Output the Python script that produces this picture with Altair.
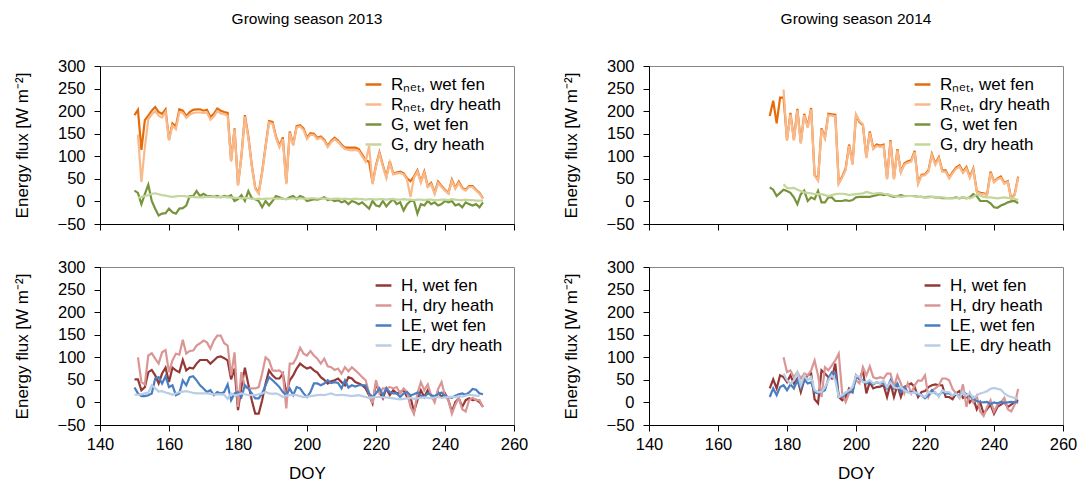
import altair as alt
import pandas as pd

FONT = "Liberation Sans"

# ---------------- 2013 (wet fen from DOY 150, dry heath from DOY 151) ----------------
START_2013_WET = 150
START_2013_DRY = 151
RNET_WET_2013 = [191, 203, 114, 180, 190, 201, 209, 198, 194, 204, 137, 173, 166, 204, 201, 189, 198, 203, 204, 204,
                 201, 203, 187, 194, 206, 201, 198, 196, 91, 162, 37, 101, 191, 144, 80, 30, 19, 66, 123, 178,
                 176, 144, 123, 142, 41, 155, 126, 167, 169, 162, 141, 151, 150, 141, 144, 137, 123, 134, 141, 135,
                 126, 119, 119, 119, 119, 116, 104, 91, 88, 41, 80, 109, 80, 55, 89, 62, 64, 66, 62, 51,
                 45, 55, 69, 44, 66, 34, 41, 19, 44, 34, 26, 19, 48, 30, 44, 30, 26, 34, 34, 26, 19, 7]
RNET_DRY_2013 = [148, 43, 120, 182, 193, 200, 190, 186, 198, 135, 168, 160, 198, 196, 185, 192, 196, 197, 197,
                 196, 197, 181, 188, 200, 195, 193, 190, 88, 160, 35, 100, 188, 140, 78, 28, 17, 64, 120, 175,
                 172, 141, 120, 138, 38, 152, 124, 164, 166, 158, 138, 148, 147, 138, 141, 134, 120, 131, 138, 132,
                 123, 116, 114, 113, 114, 112, 100, 88, 123, 38, 77, 106, 77, 52, 86, 60, 62, 63, 60, 48,
                 10, 52, 66, 42, 63, 32, 38, 17, 41, 32, 24, 17, 45, 28, 41, 28, 24, 32, 32, 24, 17, 6]
G_WET_2013 = [24, 19, -6, 16, 37, 1, -16, -31, -27, -26, -16, -24, -27, -16, -15, -9, 12, 12, 23, 12,
              17, 12, 12, 10, 12, 9, 12, 10, 14, 1, 5, 14, 1, 23, 7, 5, 1, -13, 1, -9,
              1, 12, 9, 6, 5, 9, 12, 5, 12, 9, 1, 3, 5, 4, 6, 9, 3, 5, 1, 3,
              -2, 1, -6, 1, -2, -6, -2, -9, -16, 1, -9, -11, 1, -11, -2, 5, -6, -2, -20, -6,
              1, 1, -27, -6, -9, 1, -6, -2, -9, -6, 1, -2, 1, -9, -6, -13, -2, -6, -9, -6, -13, -2]
G_DRY_2013 = [8, 10, 12, 14, 17, 18, 16, 14, 13, 11, 10, 11, 12, 12, 11, 10, 10, 9, 9,
              9, 10, 10, 10, 9, 10, 10, 9, 9, 8, 8, 7, 8, 7, 6, 5, 6, 5, 6, 6,
              7, 6, 6, 6, 5, 6, 7, 6, 7, 6, 6, 7, 7, 6, 7, 6, 6, 5, 6, 6,
              5, 6, 5, 5, 6, 5, 5, 4, 5, 5, 4, 5, 5, 4, 5, 5, 4, 4, 5, 4,
              4, 3, 4, 4, 3, 4, 4, 3, 3, 4, 4, 3, 5, 4, 3, 3, 4, 3, 3, 2, 2, 2]
H_WET_2013 = [51, 51, 27, 34, 67, 72, 60, 42, 64, 77, 45, 77, 71, 67, 94, 71, 77, 75, 86, 94,
              94, 94, 86, 93, 100, 102, 98, 93, 51, 75, -17, 34, 77, 40, 5, -25, -25, 5, 42, 71,
              60, 53, 53, 64, 20, 49, 60, 75, 86, 80, 75, 78, 71, 66, 56, 50, 42, 47, 49, 53,
              45, 38, 56, 53, 45, 42, 38, 31, 16, -2, 42, 23, 9, 31, 16, 27, 20, 23, 27, 12,
              12, -21, 5, 27, 12, 27, 16, 9, 23, 12, 20, 5, -21, 1, 9, -10, 5, 9, 5, 6, 1, -10]
H_DRY_2013 = [100, 45, 40, 104, 109, 97, 86, 111, 116, 67, 93, 108, 106, 139, 108, 114, 115, 126, 131,
              137, 133, 119, 137, 148, 148, 131, 126, 60, 111, -10, 67, 34, 31, 31, 31, 34, 64, 100, 93,
              71, 70, 71, 64, -13, 86, 86, 100, 121, 108, 104, 114, 104, 97, 86, 97, 80, 78, 72, 75,
              64, 78, 69, 78, 71, 64, 56, 49, 20, -2, 49, 20, 31, 31, 34, 31, 34, 20, 31, 23,
              -10, -25, 20, 45, 27, 40, 15, 0, 30, 45, 15, 5, -25, -5, 10, -15, -20, 5, 10, 5, 5, -10]
LE_WET_2013 = [33, 20, 14, 14, 16, 20, 53, 56, 42, 58, 34, 38, 16, 20, 49, 38, 56, 58, 49, 38,
               31, 23, 27, 16, 23, 20, 23, 40, 5, 20, 23, 12, 38, 31, 20, 9, 9, 20, 38, 56,
               49, 42, 34, 23, 16, 31, 16, 34, 31, 20, 12, 23, 42, 42, 38, 42, 49, 43, 45, 43,
               31, 49, 33, 38, 35, 38, 38, 38, 20, 12, 20, 31, 16, 31, 23, 20, 20, 12, 20, 23,
               16, 18, 22, 15, 12, 20, 16, 14, 18, 22, 14, 12, 10, 15, 18, 20, 17, 22, 30, 28, 20, 18]
LE_DRY_2013 = [17, 17, 18, 20, 22, 38, 31, 24, 25, 22, 20, 17, 20, 23, 24, 25, 23, 21, 20,
               20, 20, 20, 19, 18, 18, 18, 17, 8, 20, 16, 17, 20, 18, 16, 16, 16, 18, 20, 23,
               20, 19, 20, 17, 12, 15, 16, 17, 16, 14, 12, 13, 14, 15, 16, 17, 16, 18, 20, 17,
               16, 17, 16, 15, 14, 15, 16, 14, 12, 10, 11, 12, 12, 11, 11, 10, 9, 8, 7, 8,
               9, 10, 8, 9, 10, 11, 10, 9, 11, 12, 10, 11, 12, 13, 12, 14, 13, 15, 17, 16, 15, 14]

# ---------------- 2014 (wet fen from DOY 175, dry heath from DOY 179) ----------------
START_2014_WET = 175
START_2014_DRY = 179
RNET_WET_2014 = [189, 223, 173, 230, 230, 137, 196, 137, 205, 131, 194, 166, 207, 59, 48, 162, 142, 194, 193, 192,
                 41, 55, 73, 126, 84, 191, 176, 169, 98, 155, 119, 126, 124, 126, 51, 136, 51, 116, 66, 84,
                 89, 91, 112, 41, 59, 60, 69, 105, 84, 98, 69, 69, 53, 65, 75, 80, 66, 76, 55, 73,
                 23, 19, 18, 16, 66, 44, 51, 55, 41, 45, 5, 16, 55]
RNET_DRY_2014 = [248, 134, 193, 135, 202, 128, 191, 163, 204, 57, 46, 159, 139, 191, 190, 189,
                 39, 53, 70, 123, 81, 193, 178, 171, 96, 152, 116, 123, 121, 123, 49, 133, 49, 113, 64, 81,
                 86, 88, 109, 39, 57, 58, 66, 102, 81, 95, 66, 66, 51, 62, 72, 77, 63, 73, 52, 70,
                 21, 17, 16, 14, 63, 42, 49, 52, 39, 43, 4, 14, 53]
G_WET_2014 = [31, 26, 12, 19, 26, 23, 19, 9, -6, 16, 24, 1, 9, 5, 23, -2, -2, 9, 9, 1,
              1, 1, 3, 1, 3, 9, 10, 10, 10, 10, 12, 14, 16, 14, 16, 12, 10, 12, 14, 12,
              12, 12, 12, 10, 10, 9, 10, 10, 9, 9, 7, 7, 7, 7, 9, 7, 9, 7, 9, 16,
              12, 1, 1, 1, -4, -13, -14, -9, -6, -2, 0, 1, -4]
G_DRY_2014 = [38, 30, 29, 30, 26, 23, 20, 19, 18, 16, 16, 16, 14, 12, 14, 16,
              17, 17, 16, 14, 15, 16, 17, 18, 21, 19, 17, 18, 19, 17, 16, 14, 12, 11, 10, 11,
              12, 12, 11, 10, 10, 9, 9, 10, 10, 9, 9, 8, 7, 7, 7, 8, 9, 8, 7, 10,
              16, 13, 10, 9, 9, 8, 7, 8, 9, 8, 7, 6, 3]
H_WET_2014 = [31, 51, 31, 60, 56, 45, 60, 42, 53, 23, 49, 60, 64, 7, -2, 71, 64, 56, 53, 86,
              12, 5, 12, 31, 23, 60, 51, 71, 20, 45, 31, 34, 35, 38, 12, 42, 12, 38, 12, 34,
              38, 42, 34, 12, 23, 25, 34, 38, 40, 38, 38, 12, 12, 7, 20, 25, 10, 15, 0, 10,
              -15, 0, -25, -15, -5, -25, -10, -5, 0, -10, -5, 0, 5]
H_DRY_2014 = [100, 67, 71, 56, 67, 53, 64, 60, 71, 93, 60, 12, 78, 71, 82, 93,
              108, 20, 1, 20, 34, 49, 42, 78, 60, 80, 56, 53, 56, 53, 64, 64, 34, 60, 42, 20,
              42, 20, 38, 49, 48, 60, 12, 27, 31, 38, 53, 53, 49, 30, 20, 10, 40, -10, 20, 0,
              15, -20, -30, -10, 5, -20, -5, 0, 10, -15, -20, -5, 30]
LE_WET_2014 = [12, 31, 16, 34, 38, 27, 40, 31, 49, 31, 51, 42, 45, 23, 20, 23, 27, 53, 67, 64,
               12, 12, 20, 23, 23, 56, 53, 49, 42, 45, 40, 45, 42, 42, 31, 49, 31, 42, 23, 34,
               23, 23, 23, 16, 16, 9, 16, 27, 20, 16, 23, 20, 20, 15, 20, 12, 25, 18, 15, 8,
               3, 1, 0, 1, -4, 0, -2, 1, -1, 0, 1, 0, 0]
LE_DRY_2014 = [64, 49, 42, 49, 67, 38, 60, 49, 56, 27, 23, 23, 34, 49, 60, 49,
               12, 16, 22, 27, 34, 60, 56, 45, 45, 49, 42, 45, 43, 48, 34, 45, 34, 31, 34, 27,
               23, 20, 23, 20, 16, 12, 23, 20, 23, 12, 27, 23, 23, 15, 20, 10, 25, 15, 20, 10,
               15, 20, 22, 25, 30, 32, 30, 28, 20, 15, 12, 10, 10]

SERIES_TOP = ["R\u2099\u2091\u209c, wet fen", "R\u2099\u2091\u209c, dry heath", "G, wet fen", "G, dry heath"]
COLORS_TOP = ["#E46C0A", "#F9B98A", "#77933C", "#C3D69B"]
SERIES_BOT = ["H, wet fen", "H, dry heath", "LE, wet fen", "LE, dry heath"]
COLORS_BOT = ["#953735", "#DA9694", "#4A7EC2", "#B9CDE5"]

X_TICKS = [140, 160, 180, 200, 220, 240, 260]
Y_TICKS = [-50, 0, 50, 100, 150, 200, 250, 300]


def frame(series_names, lists, starts):
    rows = []
    for name, vals, start in zip(series_names, lists, starts):
        for i, v in enumerate(vals):
            rows.append({"series": name, "doy": start + i, "value": v})
    return pd.DataFrame(rows)


df_tl = frame(SERIES_TOP, [RNET_WET_2013, RNET_DRY_2013, G_WET_2013, G_DRY_2013],
              [START_2013_WET, START_2013_DRY, START_2013_WET, START_2013_DRY])
df_bl = frame(SERIES_BOT, [H_WET_2013, H_DRY_2013, LE_WET_2013, LE_DRY_2013],
              [START_2013_WET, START_2013_DRY, START_2013_WET, START_2013_WET])
df_tr = frame(SERIES_TOP, [RNET_WET_2014, RNET_DRY_2014, G_WET_2014, G_DRY_2014],
              [START_2014_WET, START_2014_DRY, START_2014_WET, START_2014_DRY])
df_br = frame(SERIES_BOT, [H_WET_2014, H_DRY_2014, LE_WET_2014, LE_DRY_2014],
              [START_2014_WET, START_2014_DRY, START_2014_WET, START_2014_DRY])

W, H = 414, 158
AX = dict(labelFont=FONT, titleFont=FONT, labelFontSize=16.5, titleFontSize=17, titleFontWeight="normal",
          labelColor="black", titleColor="black", domainColor="black", tickColor="black", grid=False,
          tickSize=6)


def panel(df, names, colors, bottom, legend_x, title=None):
    if bottom:
        xaxis = alt.Axis(values=X_TICKS, title="DOY", labelFlush=False, labelPadding=5, titlePadding=13, **AX)
    else:
        xaxis = alt.Axis(values=X_TICKS, title=None, labels=False, **AX)
    yaxis = alt.Axis(values=Y_TICKS, title="Energy flux [W m\u207b\u00b2]", labelPadding=9, titlePadding=26, **AX)
    legend = alt.Legend(title=None, orient="none", legendX=legend_x, legendY=9, symbolType="stroke",
                        symbolStrokeWidth=2.5, symbolSize=250, rowPadding=2, labelOffset=8,
                        labelFontSize=17, labelFont=FONT, labelColor="black", padding=0)
    layers = []
    for name in names:
        layers.append(
            alt.Chart(df).transform_filter(alt.datum.series == name).mark_line(strokeWidth=2.2).encode(
                x=alt.X("doy:Q", scale=alt.Scale(domain=[140, 260], nice=False, zero=False), axis=xaxis),
                y=alt.Y("value:Q", scale=alt.Scale(domain=[-50, 300], nice=False), axis=yaxis),
                color=alt.Color("series:N", scale=alt.Scale(domain=names, range=colors), legend=legend),
            )
        )
    ch = alt.layer(*layers).properties(width=W, height=H)
    if title:
        ch = ch.properties(title=alt.TitleParams(title, fontSize=15.5, font=FONT, fontWeight="normal",
                                                 anchor="middle", frame="group", offset=31, color="black"))
    return ch


tl = panel(df_tl, SERIES_TOP, COLORS_TOP, False, 264, "Growing season 2013")
bl = panel(df_bl, SERIES_BOT, COLORS_BOT, True, 274)
tr = panel(df_tr, SERIES_TOP, COLORS_TOP, False, 264, "Growing season 2014")
br = panel(df_br, SERIES_BOT, COLORS_BOT, True, 274)

left = alt.vconcat(tl, bl, spacing=25).resolve_scale(color="independent")
right = alt.vconcat(tr, br, spacing=25).resolve_scale(color="independent")

chart = alt.hconcat(left, right, spacing=32).resolve_scale(color="independent").properties(
    padding={"left": 12, "top": 11, "right": 0, "bottom": 0}, background="white"
).configure_view(stroke="#868686", strokeWidth=1)

chart.save("out.html", embed_options={"renderer": "svg", "actions": False})
